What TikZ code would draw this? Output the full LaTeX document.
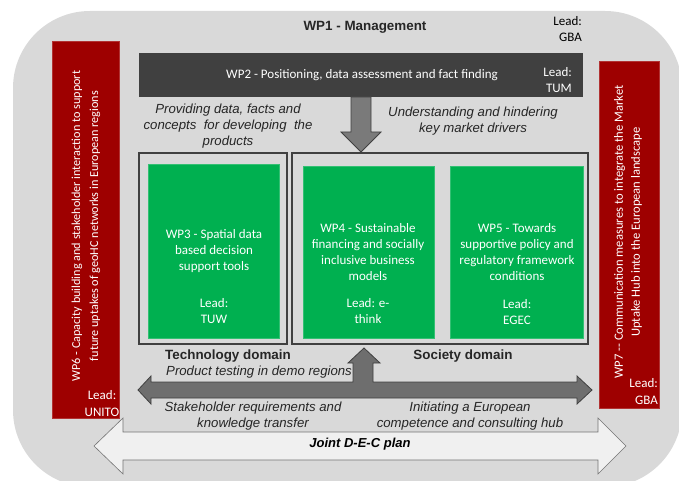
\documentclass[tikz,border=0pt]{standalone}
\usepackage{fontspec}
\setmainfont{Liberation Sans}
\newfontfamily\calfont{Carlito}
\definecolor{bggray}{HTML}{D9D9D9}
\definecolor{wptwo}{HTML}{404040}
\definecolor{wpgreen}{HTML}{00B050}
\definecolor{wpred}{HTML}{9E0000}
\definecolor{arrowgray}{HTML}{7A7A7A}
\definecolor{jointfill}{HTML}{F0F0F0}
\tikzset{
  caltext/.style={font=\calfont\fontsize{13}{16}\selectfont, text=white, align=center, inner sep=0pt},
  itext/.style={font=\itshape\fontsize{13.2}{16}\selectfont, align=center, inner sep=0pt, text=black!85},
  btext/.style={font=\bfseries\fontsize{13.4}{15}\selectfont, inner sep=0pt, text=black!85},
  greenbox/.style={fill=wpgreen, draw=wpgreen!80!white, line width=0.6pt},
  domainbox/.style={draw=wptwo, line width=1.2pt},
  redbox/.style={fill=wpred, draw=wpred!80!white, line width=0.6pt},
}
\begin{document}
\begin{tikzpicture}[x=1pt,y=-1pt]
\useasboundingbox (0,0) rectangle (679,481);
\clip (0,0) rectangle (679,481);
\fill[white] (0,0) rectangle (679,481);
% background
\fill[bggray, rounded corners=77pt] (13,11) rectangle (682,487);

% WP1
\node[btext] (wp1) at (365,27) {WP1 - Management};
\node[caltext, text=black, align=right, anchor=east] (wp1lead) at (582,29) {Lead:\\GBA};

% WP2
\fill[wptwo] (139,53) rectangle (583,97);
\node[caltext] (wp2) at (362,75) {WP2 - Positioning, data assessment and fact finding};
\node[caltext, align=right, anchor=east] (wp2lead) at (572,80) {Lead:\\TUM};

% down arrow
\draw[fill=arrowgray, draw=wptwo, line width=0.8pt]
  (351,97) -- (371,97) -- (371,132) -- (381,132) -- (361,152) -- (341,132) -- (351,132) -- cycle;

\node[itext] (provide) at (228,126) {Providing data, facts and\\concepts\ \ for developing\ \ the\\products};
\node[itext] (understand) at (473,121) {Understanding and hindering\\key market drivers};

% domain boxes
\draw[domainbox] (139,153) rectangle (287,344);
\draw[domainbox] (292,153) rectangle (588,344);

% green boxes
\draw[greenbox] (148,164) rectangle (279,338);
\draw[greenbox] (303,166) rectangle (434,338);
\draw[greenbox] (450,166) rectangle (583,338);

\node[caltext] (wp3) at (214,251) {WP3 - Spatial data\\based decision\\support tools};
\node[caltext] (wp3lead) at (214,311) {Lead:\\TUW};
\node[caltext] (wp4) at (368,252) {WP4 - Sustainable\\financing and socially\\inclusive business\\models};
\node[caltext] (wp4lead) at (368,311) {Lead: e-\\think};
\node[caltext] (wp5) at (517,252) {WP5 - Towards\\supportive policy and\\regulatory framework\\conditions};
\node[caltext] (wp5lead) at (517,312) {Lead:\\EGEC};

\node[btext] (tech) at (228,356) {Technology domain};
\node[btext] (soc) at (463,356) {Society domain};

% product testing arrow
\draw[fill=arrowgray!90!black, draw=wptwo, line width=0.8pt]
  (138,390) -- (151,376) -- (151,382) -- (353,382) -- (353,363) -- (348,363) -- (364,348)
  -- (380,363) -- (373,363) -- (373,382) -- (577,382) -- (577,376) -- (592,390)
  -- (577,404) -- (577,398) -- (151,398) -- (151,404) -- cycle;
\node[itext, anchor=west] (testing) at (166,372) {Product testing in demo regions};

\node[itext] (stake) at (253,416) {Stakeholder requirements and\\knowledge transfer};
\node[itext] (init) at (470,416) {Initiating a European\\competence and consulting hub};

% joint arrow
\draw[fill=jointfill, draw=black!55, line width=0.6pt]
  (94,446) -- (123,418) -- (123,432) -- (598,432) -- (598,418) -- (626,446)
  -- (598,474) -- (598,460) -- (123,460) -- (123,474) -- cycle;
\node[font=\bfseries\itshape\fontsize{13}{15}\selectfont, inner sep=0pt] (joint) at (360,444) {Joint D-E-C plan};

% WP6
\draw[redbox] (52,41) rectangle (119,418);
\node[caltext, font=\calfont\fontsize{12.2}{18}\selectfont, rotate=90] (wp6) at (86,226) {WP6 - Capacity building and stakeholder interaction to support\\future uptakes of geoHC networks in European regions};
\node[caltext, font=\calfont\fontsize{13}{17}\selectfont] (wp6lead) at (102,404) {Lead:\\UNITO};

% WP7
\draw[redbox] (599,61) rectangle (659,408);
\node[caltext, font=\calfont\fontsize{12.6}{17}\selectfont, rotate=90] (wp7) at (628,232) {WP7 -- Communication measures to integrate the Market\\Uptake Hub into the European landscape};
\node[caltext, font=\calfont\fontsize{13}{17}\selectfont, align=right, anchor=east] (wp7lead) at (658,392) {Lead:\\GBA};
\end{tikzpicture}
\end{document}
